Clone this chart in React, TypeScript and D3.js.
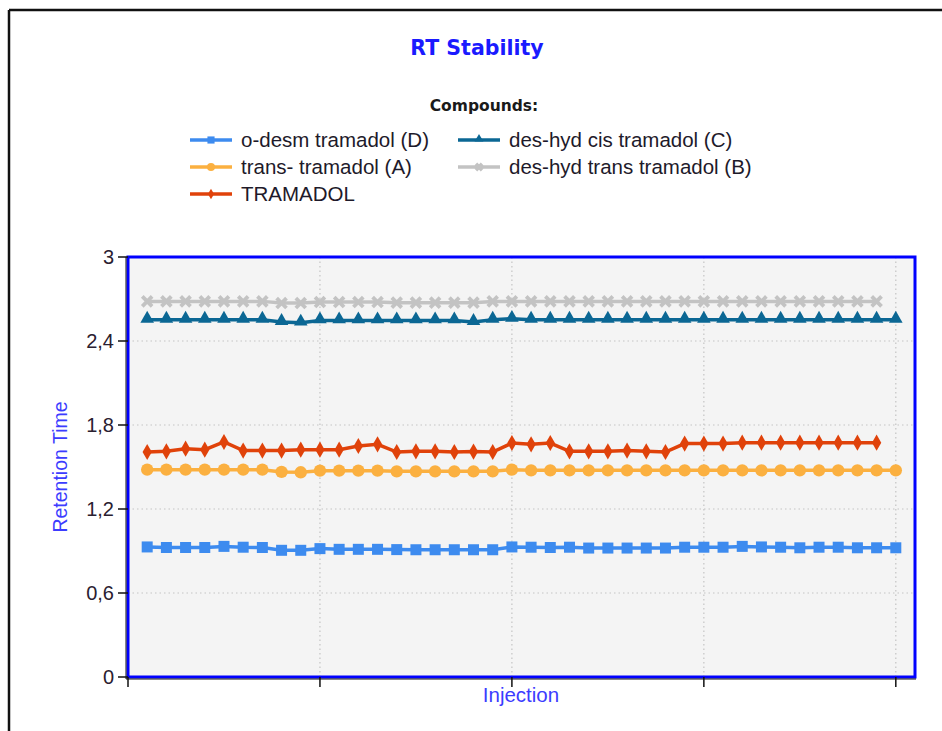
import React from "react";
import * as d3 from "d3";

const seriesNames = [
  "o-desm tramadol (D)",
  "trans- tramadol (A)",
  "TRAMADOL",
  "des-hyd cis tramadol (C)",
  "des-hyd trans tramadol (B)",
];

const odesmD = [
  0.929, 0.925, 0.925, 0.925, 0.933, 0.927, 0.925, 0.905, 0.905, 0.917,
  0.912, 0.912, 0.912, 0.91, 0.909, 0.909, 0.909, 0.909, 0.909, 0.929,
  0.927, 0.925, 0.927, 0.921, 0.921, 0.921, 0.921, 0.921, 0.927, 0.927,
  0.927, 0.933, 0.929, 0.927, 0.923, 0.927, 0.927, 0.923, 0.923, 0.923,
];

const transA = [
  1.481, 1.481, 1.481, 1.481, 1.481, 1.481, 1.481, 1.465, 1.462, 1.474,
  1.474, 1.474, 1.474, 1.469, 1.469, 1.469, 1.469, 1.469, 1.469, 1.481,
  1.476, 1.476, 1.476, 1.476, 1.476, 1.476, 1.476, 1.476, 1.476, 1.476,
  1.476, 1.476, 1.476, 1.476, 1.476, 1.476, 1.476, 1.476, 1.476, 1.476,
];

const tramadol = [
  1.607, 1.612, 1.631, 1.624, 1.679, 1.617, 1.617, 1.617, 1.624, 1.624,
  1.624, 1.65, 1.662, 1.607, 1.612, 1.612, 1.607, 1.61, 1.607, 1.671,
  1.662, 1.671, 1.612, 1.612, 1.612, 1.617, 1.612, 1.607, 1.667, 1.667,
  1.667, 1.674, 1.674, 1.674, 1.674, 1.674, 1.674, 1.674, 1.674,
];

const desHydCisC = [
  2.552, 2.552, 2.552, 2.552, 2.552, 2.552, 2.552, 2.536, 2.531, 2.547,
  2.547, 2.547, 2.547, 2.547, 2.547, 2.547, 2.547, 2.536, 2.552, 2.559,
  2.552, 2.552, 2.552, 2.552, 2.552, 2.552, 2.552, 2.552, 2.552, 2.552,
  2.552, 2.552, 2.552, 2.552, 2.552, 2.552, 2.552, 2.552, 2.552, 2.552,
];

const desHydTransB = [
  2.683, 2.683, 2.683, 2.683, 2.683, 2.683, 2.683, 2.671, 2.671, 2.678,
  2.678, 2.678, 2.678, 2.674, 2.674, 2.674, 2.674, 2.674, 2.683, 2.683,
  2.683, 2.683, 2.683, 2.683, 2.683, 2.683, 2.683, 2.683, 2.683, 2.683,
  2.683, 2.683, 2.683, 2.683, 2.683, 2.683, 2.683, 2.683, 2.683,
];

const yTicks = [0, 0.6, 1.2, 1.8, 2.4, 3];
const xTicks = [0, 10, 20, 30, 40];

const seriesData = [odesmD, transA, tramadol, desHydCisC, desHydTransB];
const seriesColors = ["#3d8bef", "#fbb040", "#e0420a", "#0b6794", "#c3c3c3"];
const seriesMarkers = ["square", "circle", "diamond", "triangle", "x"];

const W = 942;
const H = 731;
const plot = { left: 128, right: 915, top: 257, bottom: 677 };

function Marker({ kind, x, y, color, scale = 1 }: any) {
  if (kind === "square") {
    const s = 11 * scale;
    return <rect x={x - s / 2} y={y - s / 2} width={s} height={s} fill={color} />;
  }
  if (kind === "circle") {
    return <circle cx={x} cy={y} r={6.2 * scale} fill={color} />;
  }
  if (kind === "diamond") {
    const p = d3.symbol().type(d3.symbolDiamond).size(75 * scale * scale)();
    return <path d={p || ""} transform={`translate(${x},${y})`} fill={color} />;
  }
  if (kind === "triangle") {
    const p = d3.symbol().type(d3.symbolTriangle).size(80 * scale * scale)();
    return <path d={p || ""} transform={`translate(${x},${y - 1})`} fill={color} />;
  }
  const p = d3.symbol().type(d3.symbolX).size(65 * scale * scale)();
  return (
    <path
      d={p || ""}
      transform={`translate(${x},${y})`}
      fill="none"
      stroke={color}
      strokeWidth={3.8}
    />
  );
}

export default function App() {
  const x = d3.scaleLinear().domain([0, 41]).range([plot.left, plot.right]);
  const y = d3.scaleLinear().domain([0, 3]).range([plot.bottom, plot.top]);
  const line = d3
    .line<number>()
    .x((_, i) => x(i + 1))
    .y((d) => y(d));

  const font = "'Liberation Sans', Arial, sans-serif";
  const legendPos = [
    { lx: 190, ly: 140 },
    { lx: 190, ly: 167 },
    { lx: 190, ly: 194 },
    { lx: 458, ly: 140 },
    { lx: 458, ly: 167 },
  ];

  return (
    <svg
      width={W}
      height={H}
      style={{ position: "absolute", left: 0, top: 0, background: "#fff" }}
    >
      <rect x={0} y={0} width={W} height={H} fill="#fff" />
      {/* outer frame */}
      <line x1={9} y1={10} x2={W} y2={10} stroke="#111" strokeWidth={2.5} />
      <line x1={9} y1={10} x2={9} y2={H} stroke="#111" strokeWidth={2.5} />

      {/* title */}
      <text
        x={477}
        y={55}
        textAnchor="middle"
        fontFamily="'DejaVu Sans', Verdana, sans-serif"
        fontWeight="bold"
        fontSize={20.5}
        fill="#1a1aff"
      >
        RT Stability
      </text>

      {/* legend */}
      <text
        x={484}
        y={111}
        textAnchor="middle"
        fontFamily="'DejaVu Sans', Verdana, sans-serif"
        fontWeight="bold"
        fontSize={15.5}
        fill="#1a1a1a"
      >
        Compounds:
      </text>
      {seriesNames.map((name, i) => {
        const { lx, ly } = legendPos[i];
        return (
          <g key={name}>
            <line
              x1={lx}
              x2={lx + 42}
              y1={ly}
              y2={ly}
              stroke={seriesColors[i]}
              strokeWidth={3.5}
            />
            <Marker kind={seriesMarkers[i]} x={lx + 21} y={ly} color={seriesColors[i]} scale={0.65} />
            <text
              x={lx + 51}
              y={ly}
              dy="0.35em"
              fontFamily={font}
              fontSize={20.5}
              fill="#1e1a2a"
            >
              {name}
            </text>
          </g>
        );
      })}

      {/* plot background */}
      <rect
        x={plot.left}
        y={plot.top}
        width={plot.right - plot.left}
        height={plot.bottom - plot.top}
        fill="#f4f4f4"
      />
      {/* grid */}
      {yTicks.slice(1, -1).map((t) => (
        <line
          key={"gy" + t}
          x1={plot.left}
          x2={plot.right}
          y1={y(t)}
          y2={y(t)}
          stroke="#c4c4c4"
          strokeWidth={1.2}
          strokeDasharray="1.5,3"
        />
      ))}
      {xTicks.slice(1).map((t) => (
        <line
          key={"gx" + t}
          x1={x(t)}
          x2={x(t)}
          y1={plot.top}
          y2={plot.bottom}
          stroke="#c4c4c4"
          strokeWidth={1.2}
          strokeDasharray="1.5,3"
        />
      ))}

      {/* series */}
      {seriesData.map((data, si) => (
        <g key={"s" + si}>
          <path
            d={line(data) || ""}
            fill="none"
            stroke={seriesColors[si]}
            strokeWidth={3.5}
          />
          {data.map((v, i) => (
            <Marker
              key={i}
              kind={seriesMarkers[si]}
              x={x(i + 1)}
              y={y(v)}
              color={seriesColors[si]}
            />
          ))}
        </g>
      ))}

      {/* border */}
      <rect
        x={plot.left}
        y={plot.top}
        width={plot.right - plot.left}
        height={plot.bottom - plot.top}
        fill="none"
        stroke="#0000ff"
        strokeWidth={3}
      />
      <line x1={plot.left - 2} x2={plot.left - 2} y1={plot.top} y2={plot.bottom + 2} stroke="#111" strokeWidth={1} />
      <line x1={plot.left - 2} x2={plot.right + 1} y1={plot.bottom + 2} y2={plot.bottom + 2} stroke="#111" strokeWidth={1} />

      {/* y axis */}
      {yTicks.map((t) => (
        <g key={"yt" + t}>
          <line x1={plot.left - 10} x2={plot.left} y1={y(t)} y2={y(t)} stroke="#111" strokeWidth={1.5} />
          <text
            x={plot.left - 14}
            y={y(t)}
            dy="0.35em"
            textAnchor="end"
            fontFamily={font}
            fontSize={20}
            fill="#2a2030"
          >
            {String(t).replace(".", ",")}
          </text>
        </g>
      ))}
      {/* x axis ticks */}
      {xTicks.map((t) => (
        <line
          key={"xt" + t}
          x1={x(t)}
          x2={x(t)}
          y1={plot.bottom}
          y2={plot.bottom + 10}
          stroke="#111"
          strokeWidth={1.5}
        />
      ))}

      <text
        x={521}
        y={695}
        dy="0.35em"
        textAnchor="middle"
        fontFamily={font}
        fontSize={20.5}
        fill="#3c3cff"
      >
        Injection
      </text>
      <text
        transform={`translate(60,467) rotate(-90)`}
        dy="0.35em"
        textAnchor="middle"
        fontFamily={font}
        fontSize={19.5}
        fill="#3c3cff"
      >
        Retention Time
      </text>
    </svg>
  );
}
